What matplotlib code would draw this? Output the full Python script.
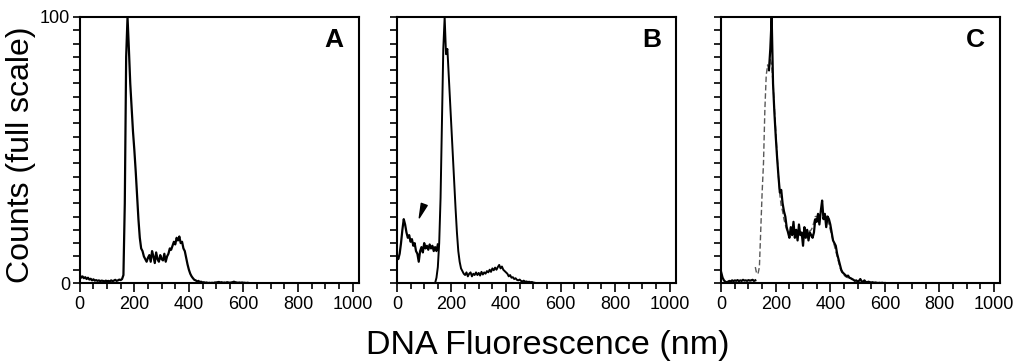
import numpy as np
import matplotlib.pyplot as plt
from matplotlib.ticker import MultipleLocator, FixedLocator

plt.rcParams['font.family'] = ['Liberation Sans', 'DejaVu Sans']

# panel A: one histogram, channels 0..620 step 5
a_x = np.arange(0, 625, 5)
a_y = [3.0, 2.0, 2.5, 1.8, 2.2, 1.5, 2.0, 1.3, 1.6, 1.0,
       1.4, 0.9, 1.1, 0.8, 1.0, 0.7, 0.9, 0.8, 0.6, 0.9,
       0.7, 0.8, 0.6, 1.0, 0.7, 0.9, 1.2, 0.8, 1.0, 1.3,
       1.1, 1.5, 3.0, 30, 85, 100, 88, 75, 66, 57,
       50, 42, 33, 24, 17, 13, 12, 10, 9, 8,
       9.5, 10.5, 8.0, 12.0, 10.0, 7.5, 11.5, 9.0, 8.0, 10.5,
       9.0, 8.5, 11.0, 8.0, 10.0, 11.0, 13.0, 12.5, 14.0, 15.5,
       14.5, 17.0, 16.0, 17.5, 15.0, 15.5, 13.0, 12.0, 9.5, 7.0,
       5.0, 3.5, 2.5, 1.8, 1.2, 1.0, 0.6, 0.8, 0.4, 0.5,
       0.2, 0.3, 0.1, 0.2, 0.0, 0.1, 0.0, 0.1, 0.0, 0.2,
       0.2, 0.3, 0.4, 0.2, 0.3, 0.1, 0.2, 0.1, 0.3, 0.2,
       0.1, 0.2, 0.3, 0.5, 0.3, 0.2, 0.1, 0.2, 0.1, 0.2,
       0.1, 0.1, 0.0, 0.1, 0.0]

# panel B: debris curve plus main histogram
b_debris_x = np.arange(0, 155, 5)
b_debris_y = [10, 9, 11, 15, 20, 24, 22, 19, 17, 18,
              15.5, 16.5, 14, 15, 12, 11, 8, 12, 13.5, 11.5,
              15, 13, 14, 12.5, 14.5, 13, 14, 12, 13.5, 12,
              14.5]
b_main_x = np.arange(140, 515, 5)
b_main_y = [0, 2, 6, 15, 32, 60, 88, 100, 86, 88,
            78, 68, 58, 48, 38, 28, 19, 12, 8, 5.5,
            4.5, 3.5, 3.0, 4.0, 2.5, 3.5, 4.0, 2.5, 3.5, 3.0,
            4.0, 3.0, 3.8, 2.8, 4.2, 3.2, 4.0, 3.5, 4.5, 4.0,
            5.0, 4.2, 5.5, 4.8, 5.8, 5.0, 6.0, 6.8, 5.5, 6.2,
            5.0, 4.5, 4.0, 3.5, 2.5, 3.0, 2.0, 2.2, 1.5, 1.8,
            1.2, 1.0, 1.3, 0.8, 0.6, 0.9, 0.5, 0.6, 0.4, 0.5,
            0.3, 0.4, 0.2, 0.1, 0.0]
b_arrow_tip = (82, 24.5)
b_arrow_base = (100, 29.5)

# panel C: measured (solid, two pieces) and fitted (dashed)
c_low_x = np.arange(0, 130, 5)
c_low_y = [4, 2, 1, 0.5, 0.3, 0.5, 0.8, 0.6, 1.0, 0.7,
           1.0, 0.8, 1.1, 0.7, 1.0, 0.8, 1.2, 0.9, 1.0, 0.8,
           1.1, 0.9, 1.0, 1.2, 0.8, 1.0]
c_main_x = np.arange(175, 605, 5)
c_main_y = [80, 88, 100, 75, 64, 55, 47, 40, 34, 35,
            30, 27, 25, 21, 19, 17, 21, 18, 23, 17,
            20, 16, 22, 18, 19, 14, 21, 17, 20, 16,
            19, 18, 17, 19, 24, 23, 26, 22, 27, 31,
            24, 26, 21, 25, 24, 22, 19, 16, 15, 14,
            11, 9, 7, 5, 4, 3.5, 3.0, 2.5, 2.8, 2.0,
            1.8, 1.5, 1.2, 0.8, 1.0, 0.6, 0.8, 1.5, 0.6, 0.5,
            1.0, 0.4, 0.3, 0.5, 0.3, 0.2, 0.3, 0.1, 0.2, 0.1,
            0.0, 0.1, 0.0, 0.1, 0.0, 0.0]
c_fit_x = np.arange(125, 485, 5)
c_fit_y = [6, 3.5, 3.5, 6, 20, 34, 45, 65, 78, 82,
           80, 84, 82, 75, 66, 57, 48, 40, 33, 29,
           27, 24, 22, 20, 19, 19, 18.5, 19, 19, 18.5,
           19, 18.5, 19, 19, 18.5, 19, 19, 19, 19, 19.5,
           19.5, 20, 21, 23, 25, 25, 25, 25.5, 25.5, 25.5,
           25.5, 25.5, 25, 25, 22, 20, 18, 16, 14, 12,
           10, 8, 6, 4.5, 3.5, 3, 2.5, 2.2, 2.0, 1.8,
           1.5, 1.3]

letters = ['A', 'B', 'C']
lefts = [0.078, 0.388, 0.705]

fig = plt.figure(figsize=(10.23, 3.61), dpi=100)
axes = []
for i, left in enumerate(lefts):
    ax = fig.add_axes([left, 0.216, 0.273, 0.737])
    ax.set_xlim(0, 1024)
    ax.set_ylim(0, 100)
    ax.xaxis.set_major_locator(FixedLocator([0, 200, 400, 600, 800, 1000]))
    ax.xaxis.set_minor_locator(MultipleLocator(50))
    ax.yaxis.set_major_locator(FixedLocator([0, 100]))
    ax.yaxis.set_minor_locator(MultipleLocator(5))
    ax.tick_params(which='both', direction='out', width=1.2, labelsize=13, colors='black')
    ax.tick_params(axis='x', which='major', length=6.5, pad=3)
    ax.tick_params(axis='x', which='minor', length=4.3)
    ax.tick_params(axis='y', which='both', length=5, pad=2)
    if i > 0:
        ax.set_yticklabels([])
    for s in ax.spines.values():
        s.set_linewidth(1.5)
    ax.text(0.945, 0.96, letters[i], transform=ax.transAxes, ha='right', va='top',
            fontsize=19, fontweight='bold')
    axes.append(ax)

axes[0].plot(a_x, a_y, color='black', lw=1.6)

axes[1].plot(b_debris_x, b_debris_y, color='black', lw=1.6)
axes[1].plot(b_main_x, b_main_y, color='black', lw=1.4)
axes[1].annotate('', xy=b_arrow_tip, xytext=b_arrow_base,
                 arrowprops=dict(facecolor='black', edgecolor='black', width=0.01,
                                 headwidth=4.5, headlength=10.3, shrink=0))

axes[2].plot(c_fit_x, c_fit_y, color='0.35', lw=1.0, dashes=(4, 2))
axes[2].plot(c_low_x, c_low_y, color='black', lw=1.6)
axes[2].plot(c_main_x, c_main_y, color='black', lw=1.6)

fig.text(0.021, 0.57, 'Counts (full scale)', rotation=90, ha='center', va='center', fontsize=23)
fig.text(0.535, 0.042, 'DNA Fluorescence (nm)', ha='center', va='center', fontsize=24.5)

plt.savefig('out.png', dpi=100)
